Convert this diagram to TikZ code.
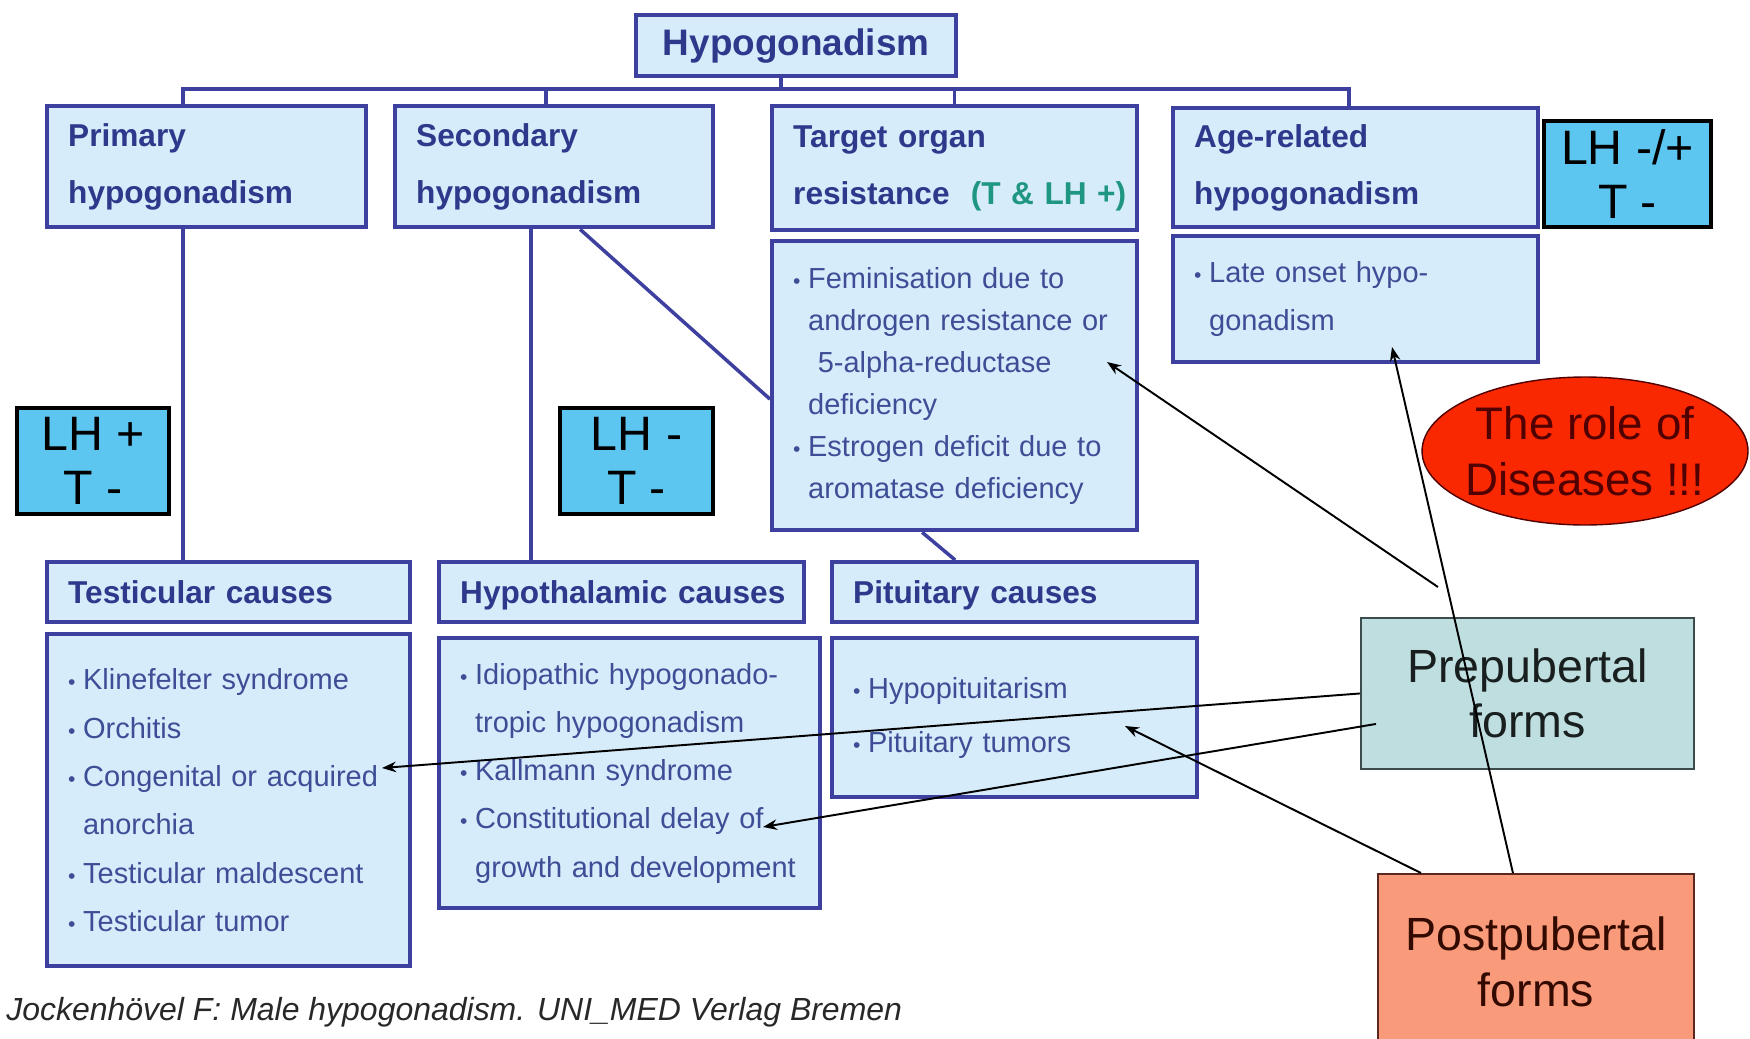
\documentclass[tikz,border=0pt]{standalone}
\usepackage{fontspec}
\setmainfont{Liberation Sans}
\usepackage{tikz}
\usetikzlibrary{arrows.meta,positioning,shapes.geometric,calc}

\definecolor{boxfill}{RGB}{214,236,251}
\definecolor{boxline}{RGB}{62,64,160}
\definecolor{boxtext}{RGB}{45,58,140}
\definecolor{bodytext}{RGB}{62,78,150}
\definecolor{lhfill}{RGB}{92,198,240}
\definecolor{resgreen}{RGB}{30,150,130}
\definecolor{prefill}{RGB}{190,222,223}
\definecolor{postfill}{RGB}{249,154,122}
\definecolor{rolered}{RGB}{250,40,0}
\definecolor{roletext}{RGB}{80,0,0}

\newcommand{\bitem}{\makebox[8.5pt][l]{\fontsize{12}{12}\selectfont •}}
\newcommand{\cont}{\hspace*{8.5pt}}

\tikzset{
  catbox/.style={draw=boxline,line width=2.5pt,fill=boxfill,text=boxtext,
    font=\fontsize{18}{32.5}\selectfont\bfseries,align=left,
    inner xsep=0.42cm,inner ysep=0pt,anchor=north west},
  headbox/.style={catbox,minimum height=1.2cm,text height=12.9pt,text depth=0pt},
  listbox/.style={catbox,text=bodytext,font=\fontsize{16.5}{27.5}\selectfont},
  lhbox/.style={draw=black,line width=2.3pt,fill=lhfill,
    font=\fontsize{27.5}{31}\selectfont,align=center,inner sep=0pt,anchor=north west},
  formbox/.style={line width=1.1pt,font=\fontsize{26.5}{31.6}\selectfont,
    align=center,inner sep=0pt,anchor=north west},
  link/.style={draw=boxline,line width=2pt},
  pointer/.style={-{Stealth[length=8pt,width=6pt]},line width=1.1pt,black},
}

\begin{document}
\begin{tikzpicture}[x=0.02cm,y=-0.02cm]
  \useasboundingbox (0,0) rectangle (1750,1038);

  % top of the tree
  \node[catbox,align=center,font=\fontsize{21}{25}\selectfont\bfseries,
    minimum width=6.4cm,minimum height=1.22cm](hypo) at (634,13){Hypogonadism};
  \node[catbox,minimum width=6.38cm,minimum height=2.42cm,text width=5.54cm]
    (primary) at (45,104){Primary\\hypogonadism};
  \node[catbox,minimum width=6.36cm,minimum height=2.42cm,text width=5.52cm]
    (secondary) at (393,104){Secondary\\hypogonadism};
  \node[catbox,minimum width=7.3cm,minimum height=2.48cm,text width=6.46cm]
    (target) at (770,104){Target organ\\resistance~~{\color{resgreen}(T~\&~LH~+)}};
  \node[catbox,minimum width=7.3cm,minimum height=2.38cm,text width=6.46cm]
    (age) at (1171,106){Age-related\\hypogonadism};
  \node[lhbox,minimum width=3.34cm,minimum height=2.12cm](lhage) at (1542,119){LH -/+\\T -};

  \node[listbox,font=\fontsize{16.5}{23.9}\selectfont,minimum width=7.3cm,
    minimum height=5.78cm,text width=6.46cm](tbody) at (770,239){%
    \bitem Feminisation due to\\
    \cont androgen resistance or\\
    \cont\ 5-alpha-reductase\\
    \cont deficiency\\
    \bitem Estrogen deficit due to\\
    \cont aromatase deficiency};
  \node[listbox,font=\fontsize{16.5}{27.2}\selectfont,minimum width=7.3cm,
    minimum height=2.52cm,text width=6.46cm](abody) at (1171,234){%
    \bitem Late onset hypo-\\
    \cont gonadism};

  \node[lhbox,minimum width=3.04cm,minimum height=2.12cm](lhprim) at (15,406){LH +\\T -};
  \node[lhbox,minimum width=3.06cm,minimum height=2.12cm](lhsec) at (558,406){LH -\\T -};

  % causes
  \node[headbox,minimum width=7.26cm,text width=6.42cm]
    (testh) at (45,560){Testicular~causes};
  \node[headbox,minimum width=7.3cm,text width=6.46cm]
    (hypoth) at (437,560){Hypothalamic~causes};
  \node[headbox,minimum width=7.3cm,text width=6.46cm]
    (pituh) at (830,560){Pituitary~causes};

  \node[listbox,minimum width=7.26cm,minimum height=6.64cm,text width=6.42cm]
    (testb) at (45,632){%
    \bitem Klinefelter syndrome\\
    \bitem Orchitis\\
    \bitem Congenital or acquired\\
    \cont anorchia\\
    \bitem Testicular maldescent\\
    \bitem Testicular tumor};
  \node[listbox,minimum width=7.62cm,minimum height=5.4cm,text width=6.78cm]
    (hypob) at (437,636){%
    \bitem Idiopathic hypogonado-\\
    \cont tropic hypogonadism\\
    \bitem Kallmann syndrome\\
    \bitem Constitutional delay of\\
    \cont growth and development};
  \node[listbox,font=\fontsize{16.5}{30.6}\selectfont,minimum width=7.3cm,
    minimum height=3.18cm,text width=6.46cm](pitub) at (830,636){%
    \bitem Hypopituitarism\\
    \bitem Pituitary tumors};

  % tree lines
  \coordinate (bus) at (781,89);
  \draw[link](hypo.south-|bus)--(bus);
  \draw[link]([xshift=-0.47cm]primary.north)|-(bus)-|([xshift=-0.13cm]age.north);
  \draw[link]([xshift=-0.16cm]secondary.north)--([xshift=-0.16cm]secondary.north|-bus);
  \draw[link](target.north)--(target.north|-bus);
  \draw[link]([xshift=-0.47cm]primary.south)--([xshift=-0.47cm]primary.south|-testh.north);
  \draw[link]([xshift=-0.46cm]secondary.south)--([xshift=-0.46cm]secondary.south|-hypoth.north);
  \draw[link]([xshift=0.52cm]secondary.south)--([yshift=-0.27cm]tbody.west);
  \draw[link]([xshift=-0.65cm]tbody.south)--([xshift=-1.19cm]pituh.north);

  % side notes
  \node[ellipse,draw=roletext,line width=0.8pt,fill=rolered,text=roletext,
    inner xsep=-0.25cm,inner ysep=0pt,minimum width=6.52cm,minimum height=2.96cm,
    align=center,font=\fontsize{26}{31.7}\selectfont](role) at (1585,451){The role of\\Diseases !!!};
  \node[formbox,draw={rgb,255:red,60;green,75;blue,75},fill=prefill,text={rgb,255:red,25;green,30;blue,30},
    minimum width=6.66cm,minimum height=3.02cm](pre) at (1360,617){Prepubertal\\forms};
  \node[formbox,draw={rgb,255:red,90;green,40;blue,30},fill=postfill,text={rgb,255:red,50;green,10;blue,0},
    minimum width=6.32cm,minimum height=3.52cm](post) at (1377,873){Postpubertal\\forms};

  % arrows
  \coordinate (tipTarget) at (1107,362);
  \coordinate (tipAge) at (1392,347);
  \coordinate (tipTest) at (382,768);
  \coordinate (tipHypo) at (763,827);
  \coordinate (tipPitu) at (1125,726);
  \draw[pointer]([xshift=-1.79cm,yshift=0.6cm]pre.north)--(tipTarget);
  \draw[pointer](pre.west)--(tipTest);
  \draw[pointer]([xshift=0.32cm,yshift=-0.61cm]pre.west)--(tipHypo);
  \draw[pointer]([xshift=-0.46cm]post.north)--(tipAge);
  \draw[pointer]([xshift=-2.3cm]post.north)--(tipPitu);

  \node[anchor=base west,inner sep=0pt,text={rgb,255:red,40;green,40;blue,40},
    font=\fontsize{18.2}{20}\selectfont\itshape](source) at (6,1020)
    {Jockenhövel F: Male hypogonadism. UNI\_MED Verlag Bremen};
\end{tikzpicture}
\end{document}
